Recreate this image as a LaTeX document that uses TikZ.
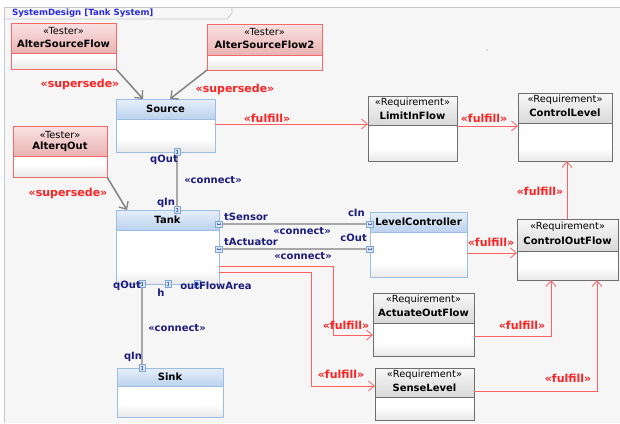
\documentclass[tikz,border=0pt]{standalone}
\usepackage{fontspec}
\setmainfont{DejaVu Sans}
\usetikzlibrary{arrows.meta,calc}
\definecolor{bg}{HTML}{F6F6F6}
\definecolor{framec}{HTML}{C8C8C8}
\definecolor{titleblue}{HTML}{2B2BE0}
\definecolor{navy}{HTML}{1C1C80}
\definecolor{redlab}{HTML}{FF2222}
\definecolor{redline}{HTML}{FF6060}
\definecolor{testb}{HTML}{F06A6A}
\definecolor{testht}{HTML}{FAE2E2}
\definecolor{testhb}{HTML}{EBB2B2}
\definecolor{blkb}{HTML}{9DBEE3}
\definecolor{blkht}{HTML}{E6EFF9}
\definecolor{blkhb}{HTML}{BBD2EE}
\definecolor{reqb}{HTML}{6E6E6E}
\definecolor{reqht}{HTML}{F8F8F8}
\definecolor{reqhb}{HTML}{D9D9D9}
\definecolor{portf}{HTML}{DCE8F6}
\definecolor{portb}{HTML}{7EA6D6}
\definecolor{conn}{HTML}{A8A8A8}
\definecolor{supc}{HTML}{838383}
\tikzset{
  bodybox/.style={anchor=north west, inner sep=0pt, outer sep=0pt, fill=white},
  bodyfoot/.style={top color=white, bottom color=black!9},
  testerhead/.style={top color=testht, bottom color=testhb},
  testerline/.style={draw=testb, line width=0.9pt},
  blkhead/.style={top color=blkht, bottom color=blkhb},
  blkline/.style={draw=blkb, line width=0.9pt},
  reqhead/.style={top color=reqht, bottom color=reqhb},
  reqline/.style={draw=reqb, line width=0.9pt},
  stereo/.style={font=\fontsize{9.8}{11}\selectfont, text=black, inner sep=0pt},
  bname/.style={font=\fontsize{10}{12}\selectfont\bfseries, text=black, inner sep=0pt},
  plab/.style={font=\fontsize{10}{12}\selectfont\bfseries, text=navy, inner sep=0pt},
  rlab/.style={font=\fontsize{11}{13}\selectfont\bfseries, text=redlab, inner sep=0pt},
  ttl/.style={font=\fontsize{8.6}{10}\selectfont\bfseries, text=titleblue, inner sep=0pt},
  fulfill/.style={draw=redline, line width=0.9pt,
    -{Straight Barb[length=6pt,width=10pt,line width=0.8pt]}},
  supersede/.style={draw=supc, line width=1.5pt,
    -{Straight Barb[length=6pt,width=11pt,line width=1.3pt]}},
  connect/.style={draw=conn, line width=1.2pt},
  vprt/.style={draw=portb, fill=portf, line width=0.6pt, minimum width=6pt,
    minimum height=7pt, inner sep=0pt, outer sep=0pt,
    path picture={\draw[portb!60!navy, line width=0.5pt,
      {Straight Barb[length=1pt,width=2.4pt]}-{Straight Barb[length=1pt,width=2.4pt]}]
      ([yshift=-1.2pt]path picture bounding box.north) --
      ([yshift=1.2pt]path picture bounding box.south);}},
  hprt/.style={draw=portb, fill=portf, line width=0.6pt, minimum width=7pt,
    minimum height=6pt, inner sep=0pt, outer sep=0pt,
    path picture={\draw[portb!60!navy, line width=0.5pt,
      {Straight Barb[length=1pt,width=2.4pt]}-{Straight Barb[length=1pt,width=2.4pt]}]
      ([xshift=1.2pt]path picture bounding box.west) --
      ([xshift=-1.2pt]path picture bounding box.east);}},
}
% #1 name, #2 kind, #3 x1, #4 y1, #5 x2, #6 y2, #7 header bottom y
\newcommand\mkbox[7]{%
  \node[bodybox, minimum width={(#5-#3)*1pt}, minimum height={(#6-#4)*1pt}] (#1) at (#3,#4) {};
  \shade[bodyfoot] ([yshift=13pt]#1.south west) rectangle (#1.south east);
  \shade[#2head] (#1.north west) rectangle (#5,#7);
  \draw[#2line] (#1.west |- 0,#7) -- (#1.east |- 0,#7);
  \draw[#2line] (#1.north west) rectangle (#1.south east);
}
\begin{document}
\begin{tikzpicture}[x=1pt,y=-1pt]
\useasboundingbox (0,0) rectangle (620,423);
\fill[white] (0,0) rectangle (620,423);
\fill[bg] (4,7) rectangle (620,423);
\draw[framec, line width=0.8pt] (4,423) -- (4,7) -- (620,7);
\draw[framec, line width=0.8pt] (4,19) -- (227,19) -- (232,13) -- (232,7);
\node[ttl, anchor=west] (title) at (12,13.5) {SystemDesign [Tank System]};
\fill[black!55] (487,50) circle (0.7);

% Testers
\mkbox{asf}{tester}{11}{23}{116}{69}{53}
\node[stereo] (asfs) at ([yshift=-8pt]asf.north) {«Tester»};
\node[bname] (asfn) at ([yshift=-21pt]asf.north) {AlterSourceFlow};
\mkbox{asftwo}{tester}{207}{24}{322}{70}{55}
\node[stereo] (asftwos) at ([yshift=-8pt]asftwo.north) {«Tester»};
\node[bname] (asftwon) at ([yshift=-21pt]asftwo.north) {AlterSourceFlow2};
\mkbox{aqo}{tester}{13}{126}{107}{177}{156}
\node[stereo] (aqos) at ([yshift=-9pt]aqo.north) {«Tester»};
\node[bname] (aqon) at ([yshift=-21pt]aqo.north) {AlterqOut};

% Blocks
\mkbox{src}{blk}{116}{99}{215}{152}{119}
\node[bname] (srcn) at ([yshift=-9.5pt]src.north) {Source};
\mkbox{tank}{blk}{116}{210}{219}{284}{230}
\node[bname] (tankn) at ([yshift=-9.5pt]tank.north) {Tank};
\mkbox{sink}{blk}{117}{368}{223}{417}{386}
\node[bname] (sinkn) at ([yshift=-9pt]sink.north) {Sink};
\mkbox{lc}{blk}{370}{212}{467}{277}{232}
\node[bname] (lcn) at ([yshift=-9.5pt]lc.north) {LevelController};

% Requirements
\mkbox{lif}{req}{368}{96}{457}{161}{125}
\node[stereo] (lifs) at ([yshift=-6.5pt]lif.north) {«Requirement»};
\node[bname] (lifn) at ([yshift=-20pt]lif.north) {LimitInFlow};
\mkbox{cl}{req}{518}{93}{612}{161}{123}
\node[stereo] (cls) at ([yshift=-7pt]cl.north) {«Requirement»};
\node[bname] (cln) at ([yshift=-20pt]cl.north) {ControlLevel};
\mkbox{cof}{req}{517}{219}{618}{280}{251}
\node[stereo] (cofs) at ([yshift=-8pt]cof.north) {«Requirement»};
\node[bname] (cofn) at ([yshift=-22pt]cof.north) {ControlOutFlow};
\mkbox{aof}{req}{373}{293}{474}{356}{323}
\node[stereo] (aofs) at ([yshift=-7pt]aof.north) {«Requirement»};
\node[bname] (aofn) at ([yshift=-20pt]aof.north) {ActuateOutFlow};
\mkbox{sl}{req}{375}{368}{474}{420}{397}
\node[stereo] (sls) at ([yshift=-6.5pt]sl.north) {«Requirement»};
\node[bname] (sln) at ([yshift=-20pt]sl.north) {SenseLevel};

% Ports
\node[vprt] (srcqout) at (src.south -| 177,0) {};
\node[vprt] (tankqin) at (tank.north -| 177,0) {};
\node[hprt] (tankts) at (tank.east |- 0,224) {};
\node[hprt] (tankta) at (tank.east |- 0,249) {};
\node[vprt] (tankqout) at (tank.south -| 142,0) {};
\node[vprt] (tankh) at (tank.south -| 168,0) {};
\node[vprt] (tankofa) at (tank.south -| 197,0) {};
\node[vprt] (sinkqin) at (sink.north -| 142,0) {};
\node[hprt] (lccin) at (lc.west |- 0,224) {};
\node[hprt] (lccout) at (lc.west |- 0,249) {};

% connect
\draw[connect] (srcqout.south) -- (tankqin.north);
\draw[connect] (tankts.east) -- (lccin.west);
\draw[connect] (tankta.east) -- (lccout.west);
\draw[connect] (tankqout.south) -- (sinkqin.north);

% supersede
\draw[supersede] (asf.south east) -- (src.north -| 143,0);
\draw[supersede] (asftwo.south west) -- (src.north -| 170,0);
\draw[supersede] (aqo.south east) -- (tank.north -| 127,0);

% fulfill
\draw[fulfill] (src.east |- 0,124) -- (lif.west |- 0,124);
\draw[fulfill] (lif.east |- 0,126) -- (cl.west |- 0,126);
\draw[fulfill] (cof.north -| 567,0) -- (cl.south -| 567,0);
\draw[fulfill] (lc.east |- 0,253) -- (cof.west |- 0,253);
\draw[fulfill] (tank.east |- 0,266) -- ++(114,0) |- (aof.west |- 0,335);
\draw[fulfill] (tank.east |- 0,272) -- ++(92,0) |- (sl.west |- 0,386);
\draw[fulfill] (aof.east |- 0,336) -| (cof.south -| 551,0);
\draw[fulfill] (sl.east |- 0,391) -| (cof.south -| 597,0);

% labels
\node[rlab] (ls1) at (80,84) {«supersede»};
\node[rlab] (ls2) at (235,89) {«supersede»};
\node[rlab] (ls3) at (68,193) {«supersede»};
\node[rlab] (lf1) at (267,118) {«fulfill»};
\node[rlab] (lf2) at (484,118) {«fulfill»};
\node[rlab] (lf3) at (540,191) {«fulfill»};
\node[rlab] (lf4) at (491,242) {«fulfill»};
\node[rlab] (lf5) at (346,325) {«fulfill»};
\node[rlab] (lf6) at (341,374) {«fulfill»};
\node[rlab] (lf7) at (522,325) {«fulfill»};
\node[rlab] (lf8) at (568,378) {«fulfill»};

\node[plab] (pl1) at (164,160) {qOut};
\node[plab] (pl2) at (213,180) {«connect»};
\node[plab] (pl3) at (166,203) {qIn};
\node[plab, anchor=west] (pl4) at (224,217) {tSensor};
\node[plab, anchor=west] (pl5) at (224,242) {tActuator};
\node[plab, anchor=east] (pl6) at (365,213) {cIn};
\node[plab, anchor=east] (pl7) at (367,238) {cOut};
\node[plab] (pl8) at (302,231) {«connect»};
\node[plab] (pl9) at (303,256) {«connect»};
\node[plab] (pl10) at (127,286) {qOut};
\node[plab] (pl11) at (161,293) {h};
\node[plab] (pl12) at (216,286) {outFlowArea};
\node[plab] (pl13) at (177,328) {«connect»};
\node[plab] (pl14) at (133,357) {qIn};
\end{tikzpicture}
\end{document}
